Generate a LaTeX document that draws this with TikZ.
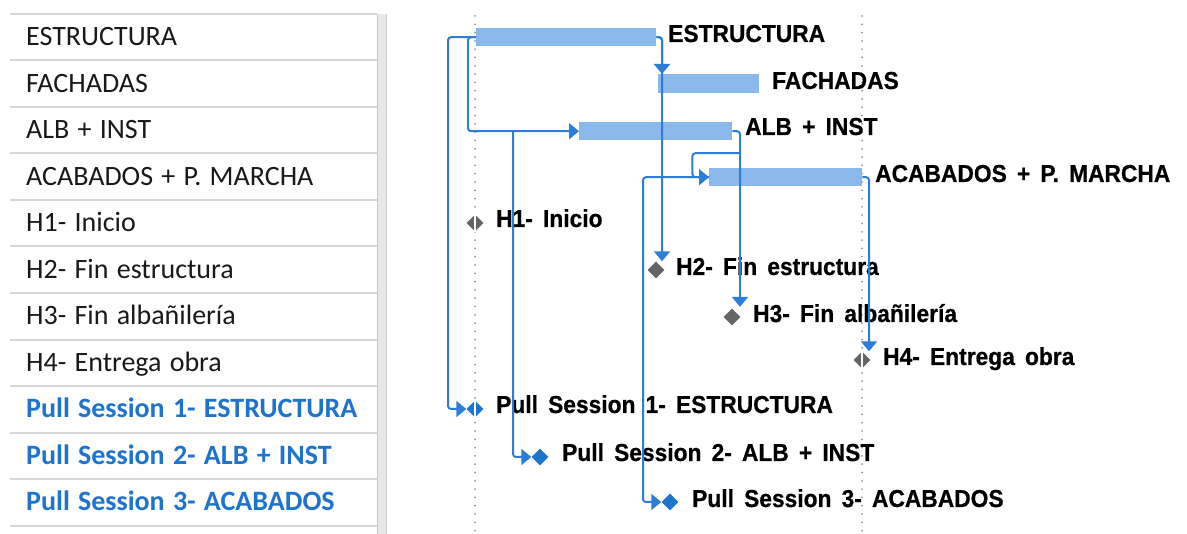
\documentclass[tikz,border=0pt]{standalone}
\usepackage{fontspec}
\setmainfont[WordSpace=1.3]{Carlito}
\newfontfamily\labfont[FakeStretch=0.93,WordSpace=1.6,BoldFeatures={FakeBold=0.6}]{Liberation Sans}
\usetikzlibrary{arrows.meta,shapes.geometric}
\definecolor{barblue}{RGB}{138,184,234}
\definecolor{linkblue}{RGB}{45,125,215}
\definecolor{psblue}{RGB}{30,115,205}
\definecolor{msgray}{RGB}{100,100,100}
\definecolor{rowline}{RGB}{215,215,215}
\definecolor{dotgray}{RGB}{150,150,150}
\begin{document}
\begin{tikzpicture}[x=1pt,y=-1pt,
  tbl/.style={anchor=base west,inner sep=0pt,font=\fontsize{28}{30}\selectfont,text=black!90},
  tblps/.style={anchor=base west,inner sep=0pt,font=\fontsize{28}{30}\selectfont\bfseries,text=psblue},
  bar/.style={fill=barblue,draw=none,inner sep=0pt,anchor=north west},
  lbl/.style={anchor=base west,inner sep=0pt,font=\labfont\bfseries\fontsize{24.5}{26}\selectfont},
  ms/.style={diamond,fill=msgray,inner sep=0pt,minimum size=17pt},
  psd/.style={diamond,fill=psblue,inner sep=0pt,minimum size=17pt},
  link/.style={draw=linkblue,line width=2pt,rounded corners=3pt},
  arr/.style={link,-{Triangle[width=16pt,length=10pt]}},
  gridline/.style={draw=dotgray,line width=2pt,dash pattern=on 0pt off 8.3pt,line cap=round},
  rowrule/.style={draw=rowline,line width=1.5pt}
]
\useasboundingbox (0,0) rectangle (1187,534);
\fill[white] (0,0) rectangle (1187,534);

% ---- left table ----
\foreach \yy in {14,60,107,153,200,246,293,340,386,433,479,526}
  \draw[rowrule] (10,\yy) -- (377,\yy);
\fill[gray!18] (377,14) rectangle (387,534);
\draw[gray!45,line width=1.2pt] (377.5,14) -- (377.5,534);
\draw[gray!40,line width=1.2pt] (386.5,14) -- (386.5,534);

\node[tbl] (t1) at (26,46) {ESTRUCTURA};
\node[tbl] (t2) at (26,93) {FACHADAS};
\node[tbl] (t3) at (26,139) {ALB + INST};
\node[tbl] (t4) at (26,186) {ACABADOS + P. MARCHA};
\node[tbl] (t5) at (26,232) {H1- Inicio};
\node[tbl] (t6) at (26,279) {H2- Fin estructura};
\node[tbl] (t7) at (26,325) {H3- Fin albañilería};
\node[tbl] (t8) at (26,372) {H4- Entrega obra};
\node[tblps] (t9) at (26,418) {Pull Session 1- ESTRUCTURA};
\node[tblps] (t10) at (26,465) {Pull Session 2- ALB + INST};
\node[tblps] (t11) at (26,511) {Pull Session 3- ACABADOS};

% ---- gantt grid ----
\draw[gridline] (475,16) -- (475,534);
\draw[gridline] (862,16) -- (862,534);

% ---- bars ----
\node[bar,minimum width=180pt,minimum height=18pt] (estr) at (476,28) {};
\node[bar,minimum width=101pt,minimum height=19pt] (fach) at (658,74) {};
\node[bar,minimum width=153pt,minimum height=18pt] (alb) at (579,122) {};
\node[bar,minimum width=153pt,minimum height=18pt] (acab) at (709,168) {};

% ---- milestones ----
\node[ms] (h1) at (475,223) {};
\node[ms] (h2) at (656,270) {};
\node[ms] (h3) at (732,317) {};
\node[ms] (h4) at (862,360) {};
\node[psd] (ps1) at (475,409) {};
\node[psd] (ps2) at (540,457) {};
\node[psd] (ps3) at (670,502) {};
\draw[white,line width=1.3pt] (h1.north) -- (h1.south);
\draw[white,line width=1.3pt] (h4.north) -- (h4.south);
\draw[white,line width=1.3pt] (ps1.north) -- (ps1.south);

% ---- labels ----
\node[lbl] (lestr) at (668,42) {ESTRUCTURA};
\node[lbl] (lfach) at (772,89) {FACHADAS};
\node[lbl] (lalb) at (745,135) {ALB + INST};
\node[lbl] (lacab) at (875,182) {ACABADOS + P. MARCHA};
\node[lbl] (lh1) at (496,227) {H1- Inicio};
\node[lbl] (lh2) at (676,275) {H2- Fin estructura};
\node[lbl] (lh3) at (753,322) {H3- Fin albañilería};
\node[lbl] (lh4) at (883,365) {H4- Entrega obra};
\node[lbl] (lps1) at (496,413) {Pull Session 1- ESTRUCTURA};
\node[lbl] (lps2) at (562,461) {Pull Session 2- ALB + INST};
\node[lbl] (lps3) at (692,507) {Pull Session 3- ACABADOS};

% ---- links ----
\path (alb.west) ++(-66,0) coordinate (j2);
\path (alb.east) ++(8,22) coordinate (k1);
\draw[arr] (estr.west) -- ++(-28,0) |- (ps1.west);
\draw[arr] (estr.west) -- ++(-8,0) |- (alb.west);
\draw[arr] (j2) |- (ps2.west);
\draw[arr] (estr.east) -| ([xshift=4pt]fach.north west);
\draw[arr] (estr.east) -| ([xshift=6pt]h2.north);
\draw[arr] (alb.east) -| ([xshift=8pt,yshift=1.5pt]h3.north);
\draw[arr] (acab.west) -- ++(-66,0) |- (ps3.west);
\draw[arr] (k1) -- ++(-48,0) |- (acab.west);
\draw[arr] (acab.east) -| ([xshift=7pt]h4.north);
\end{tikzpicture}
\end{document}
